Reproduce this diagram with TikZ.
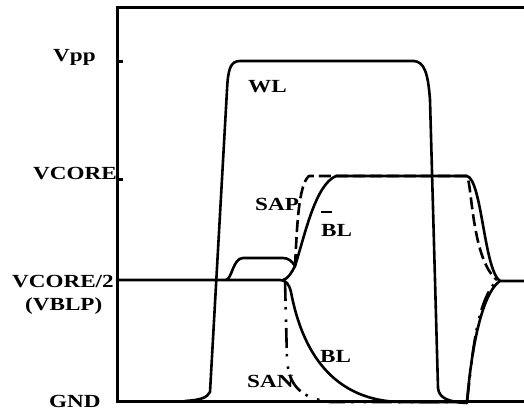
\documentclass[tikz,border=0pt]{standalone}
\usepackage{fontspec}
\setmainfont{Liberation Serif}[FakeStretch=1.25]
\usepackage{xcolor}
\usepackage{tikz}
\usetikzlibrary{positioning}
\definecolor{wfInk}{HTML}{000000}
\newcommand{\barB}{\makebox[0pt][l]{\rule[1.25em]{0.6em}{2.2pt}}B}

\begin{document}
\begin{tikzpicture}[
  x=1pt, y=-1pt,
  font=\bfseries\fontsize{18.5}{21}\selectfont,
  axis/.style={draw=wfInk, line width=3pt, line join=miter},
  wave/.style={draw=wfInk, line width=2.6pt, line cap=round, line join=round},
  sapline/.style={wave, line cap=butt, dash pattern=on 12pt off 5pt},
  sanline/.style={wave, line cap=butt,
    dash pattern=on 20pt off 6pt on 2.5pt off 10pt on 2.5pt off 6pt},
  lvl/.style={anchor=base west, inner sep=0pt, text=wfInk},
  sig/.style={anchor=base west, inner sep=0pt, text=wfInk}
]
\useasboundingbox (0,0) rectangle (524,412);

% ---- frame ----------------------------------------------------------------
\draw[axis] (524,8) -- (117,8) -- (117,401) -- (524,401);
\draw[axis] (117,61) -- (123,61);
\draw[axis] (117,179) -- (123,179);

% ---- level labels ---------------------------------------------------------
\node[lvl] (vpp)   at (53,62)  {Vpp};
\node[lvl] (vcore) at (33,179) {VCORE};
\node[lvl] (vhalf) at (12,287) {VCORE/2};
\node[lvl] (vblp)  at (25,310) {(VBLP)};
\node[lvl] (gnd)   at (49,407) {GND};

% ---- word line ------------------------------------------------------------
\draw[wave] (185,401) .. controls (200,400) and (207,398) .. (210,392)
  -- (227,90) .. controls (228,70) and (230,61) .. (240,61)
  -- (414,61) .. controls (424,62) and (428,72) .. (430,100)
  -- (438,388) .. controls (439,398) and (448,402) .. (467,403);

% ---- BL (stays low) -------------------------------------------------------
\draw[wave] (117,280) -- (280,280)
  .. controls (286,280) and (289,284) .. (291,292)
  .. controls (300,340) and (325,400) .. (400,402)
  -- (467,402) .. controls (473,330) and (486,290) .. (500,281) -- (524,281);
\draw[wave] (283,280) .. controls (288,279) and (292,272) .. (295,266);

% ---- BL bar (charge share, then up) ---------------------------------------
\draw[wave] (226,280) .. controls (232,279) and (233,258) .. (243,258)
  -- (283,258) .. controls (288,258) and (292,261) .. (295,266)
  .. controls (305,235) and (315,185) .. (336,176)
  -- (467,176) .. controls (482,180) and (484,270) .. (500,281);

% ---- SAP / SAN ------------------------------------------------------------
\draw[sapline] (295,266) .. controls (297,230) and (298,185) .. (309,176)
  -- (467,176) .. controls (472,185) and (472,260) .. (497,280);
\draw[sanline] (285,281) -- (287,360)
  .. controls (289,385) and (300,398) .. (330,402)
  -- (467,402) .. controls (472,360) and (476,300) .. (497,281);

% ---- signal labels --------------------------------------------------------
\node[sig] (wl)    at (248,92)  {WL};
\node[sig] (sap)   at (255,210) {SAP};
\node[sig] (blbar) at (321,236) {\barB L};
\node[sig] (bl)    at (320,362) {BL};
\node[sig] (san)   at (247,387) {SAN};

\end{tikzpicture}
\end{document}
